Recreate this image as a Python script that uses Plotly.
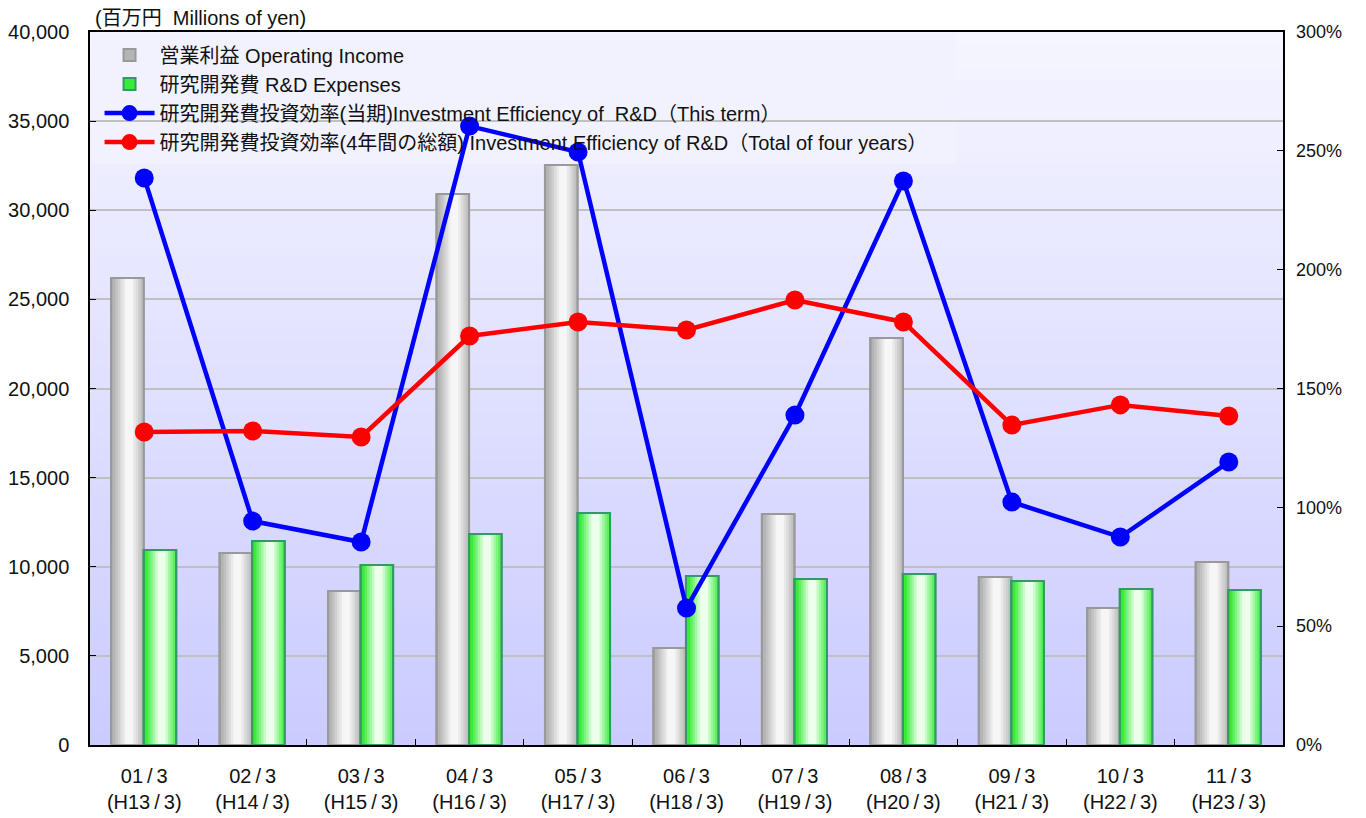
import plotly.graph_objects as go

S = "\u2009/\u2009"
categories = [f"01{S}3<br>(H13{S}3)", f"02{S}3<br>(H14{S}3)", f"03{S}3<br>(H15{S}3)",
              f"04{S}3<br>(H16{S}3)", f"05{S}3<br>(H17{S}3)", f"06{S}3<br>(H18{S}3)",
              f"07{S}3<br>(H19{S}3)", f"08{S}3<br>(H20{S}3)", f"09{S}3<br>(H21{S}3)",
              f"10{S}3<br>(H22{S}3)", f"11{S}3<br>(H23{S}3)"]
operating_income = [26200, 10770, 8640, 30910, 32540, 5440, 12960, 22830, 9430, 7690, 10270]
rd_expenses = [10940, 11450, 10100, 11840, 13020, 9480, 9310, 9590, 9200, 8750, 8700]
eff_this_term = [238.6, 94.2, 85.4, 260.4, 249.5, 57.6, 138.8, 237.3, 102.2, 87.5, 119.1]
eff_four_years = [131.7, 132.1, 129.6, 172.1, 178.0, 174.6, 187.2, 178.0, 134.6, 143.1, 138.4]

names = ["営業利益 Operating Income",
         "研究開発費 R&D Expenses",
         "研究開発費投資効率(当期)Investment Efficiency of  R&D（This term）",
         "研究開発費投資効率(4年間の総額) Investment Efficiency of R&D（Total of four years）"]

FONT = "Arial, 'Liberation Sans', 'Noto Sans CJK JP', sans-serif"

fig = go.Figure()


def lerp(c1, c2, t):
    return "rgb(%d,%d,%d)" % tuple(round(a + (b - a) * t) for a, b in zip(c1, c2))


def gradient_bars(y, name, offset, width, edge, center, border):
    fracs = [1.0, 0.85, 0.7, 0.55, 0.4, 0.25]
    cpos = 0.55
    for i, f in enumerate(fracs):
        w = width * f
        c = offset + width * cpos
        off = c - w / 2
        off = max(off, offset)
        if off + w > offset + width:
            off = offset + width - w
        fig.add_trace(go.Bar(
            x=categories, y=y, name=name, width=w, offset=off,
            marker=dict(color=lerp(edge, center, i / (len(fracs) - 1)),
                        line=dict(color=border, width=2 if i == 0 else 0)),
            showlegend=(i == 0), legendgroup=name, hoverinfo="skip" if i else None,
        ))
    fig.add_trace(go.Bar(
        x=categories, y=y, name=name, width=width, offset=offset,
        marker=dict(color="rgba(0,0,0,0)", line=dict(color=border, width=2)),
        showlegend=False, legendgroup=name, hoverinfo="skip",
    ))


gradient_bars(operating_income, names[0], -0.305, 0.3, (180, 180, 180), (246, 246, 246), "#999999")
gradient_bars(rd_expenses, names[1], -0.005, 0.3, (55, 235, 55), (235, 255, 235), "#339966")

fig.add_trace(go.Scatter(
    x=categories, y=eff_this_term, name=names[2], yaxis="y2", mode="lines+markers",
    line=dict(color="#0000ff", width=4.5), marker=dict(color="#0000ff", size=19),
))
fig.add_trace(go.Scatter(
    x=categories, y=eff_four_years, name=names[3], yaxis="y2", mode="lines+markers",
    line=dict(color="#ff0000", width=4.5), marker=dict(color="#ff0000", size=19),
))

# background gradient
shapes = []
n = 60
top = (245, 245, 255)
bot = (203, 203, 255)
for i in range(n):
    shapes.append(dict(type="rect", xref="paper", yref="paper",
                       x0=0, x1=1, y0=i / n, y1=(i + 1) / n + 0.002,
                       fillcolor=lerp(bot, top, i / (n - 1)), line=dict(width=0),
                       layer="below"))
# legend backing panel: hides gridlines but stays under the data lines
shapes.append(dict(type="rect", xref="paper", yref="paper", x0=0.002, x1=0.726,
                   y0=0.815, y1=0.998, fillcolor="rgb(242,242,255)",
                   line=dict(width=0), layer="between"))

fig.update_layout(
    width=1366, height=818,
    margin=dict(l=82, r=91, t=24, b=81),
    paper_bgcolor="white", plot_bgcolor="rgba(0,0,0,0)",
    barmode="overlay",
    shapes=shapes,
    font=dict(family=FONT, size=20, color="#111111"),
    xaxis=dict(type="category", tickson="boundaries", ticks="inside", ticklen=6,
               tickcolor="black", showline=True, linecolor="black", linewidth=1.5,
               mirror=True, showgrid=False, tickfont=dict(size=20),
               range=[-0.5, 10.5], ticklabelstandoff=12, automargin=False),
    yaxis=dict(range=[0, 40000], dtick=5000, tickformat=",", ticks="inside", ticklen=6,
               tickcolor="black", showline=True, linecolor="black", linewidth=1.5,
               mirror=True, showgrid=True, gridcolor="#c0c0c0", gridwidth=2,
               zeroline=False, tickfont=dict(size=20), ticklabelstandoff=15,
               automargin=False),
    yaxis2=dict(range=[0, 300], dtick=50, ticksuffix="%", overlaying="y", side="right",
                ticks="inside", ticklen=6, tickcolor="black", showgrid=False,
                zeroline=False, showline=False, tickfont=dict(size=18),
                ticklabelstandoff=12, automargin=False),
    legend=dict(x=0.008, y=0.995, xanchor="left", yanchor="top",
                bgcolor="rgba(0,0,0,0)", font=dict(size=20, family=FONT),
                tracegroupgap=0, traceorder="normal", itemwidth=50),
    annotations=[dict(text="(百万円  Millions of yen)", xref="paper", yref="paper",
                      x=0, y=1, xanchor="left", yanchor="bottom", xshift=3, yshift=1,
                      showarrow=False, font=dict(size=20, family=FONT))],
)

fig.write_html("out.html")
